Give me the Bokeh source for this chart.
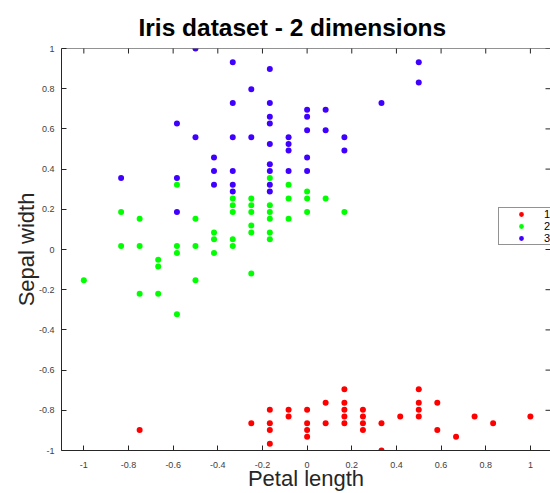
import math
from bokeh.plotting import figure
from bokeh.models import LinearAxis, FixedTicker, Legend, LegendItem, Range1d, Span
from bokeh.embed import file_html
from bokeh.resources import INLINE

# ---- data ----
red_x = [-0.75, -0.25, -0.167, -0.167, -0.167, -0.167, -0.083, -0.083, 0.0, 0.0, 0.0, 0.0,
         0.083, 0.083, 0.167, 0.167, 0.167, 0.167, 0.167, 0.25, 0.25, 0.25, 0.25, 0.333,
         0.333, 0.417, 0.5, 0.5, 0.5, 0.5, 0.583, 0.583, 0.667, 0.75, 0.833, 1.0]
red_y = [-0.898, -0.864, -0.797, -0.864, -0.898, -0.966, -0.797, -0.831, -0.797, -0.864, -0.898, -0.932,
         -0.763, -0.864, -0.695, -0.763, -0.797, -0.831, -0.864, -0.797, -0.831, -0.864, -0.898, -0.864,
         -1.0, -0.831, -0.695, -0.763, -0.797, -0.831, -0.763, -0.898, -0.932, -0.831, -0.864, -0.831]

green_x = [-0.167, -0.583, -0.083, 0.0, -0.333, -0.25, -0.083, 0.0, 0.083, -0.333, -0.25, -0.167,
           -0.833, -0.333, -0.25, -0.167, 0.0, 0.167, -0.75, -0.5, -0.167, -0.083, -0.25, -0.417,
           -0.25, -0.167, -0.417, -0.333, -0.167, -0.833, -0.75, -0.583, -0.5, -0.333, -0.583, -0.417,
           -0.667, -0.667, -0.25, -1.0, -0.5, -0.75, -0.667, -0.583]
green_y = [0.356, 0.322, 0.322, 0.288, 0.254, 0.254, 0.254, 0.254, 0.254, 0.220, 0.220, 0.220,
           0.186, 0.186, 0.186, 0.186, 0.186, 0.186, 0.153, 0.153, 0.153, 0.153, 0.119, 0.085,
           0.085, 0.085, 0.051, 0.051, 0.051, 0.017, 0.017, 0.017, 0.017, 0.017, -0.017, -0.017,
           -0.051, -0.085, -0.119, -0.153, -0.153, -0.220, -0.220, -0.322]

blue_x = [-0.5, -0.333, -0.167, 0.5, 0.5, -0.25, -0.333, -0.167, 0.333, 0.0, 0.083, -0.167,
          0.0, -0.583, -0.167, 0.0, 0.083, -0.5, -0.333, -0.25, -0.083, 0.167, -0.167, -0.083,
          -0.083, 0.167, -0.417, 0.0, -0.167, -0.417, -0.333, -0.167, -0.083, 0.0, -0.833, -0.583,
          -0.417, -0.333, -0.167, -0.333, -0.167, -0.583]
blue_y = [1.0, 0.932, 0.898, 0.932, 0.831, 0.797, 0.729, 0.729, 0.729, 0.695, 0.695, 0.661,
          0.661, 0.627, 0.627, 0.593, 0.593, 0.559, 0.559, 0.559, 0.559, 0.559, 0.525, 0.525,
          0.492, 0.492, 0.458, 0.458, 0.424, 0.390, 0.390, 0.390, 0.390, 0.390, 0.356, 0.356,
          0.322, 0.322, 0.322, 0.288, 0.288, 0.186]

cluster_labels = ["1", "2", "3"]
cluster_colors = ["#ff0000", "#00ff00", "#4000ff"]

x_ticks = [-1, -0.8, -0.6, -0.4, -0.2, 0, 0.2, 0.4, 0.6, 0.8, 1]
x_tick_labels = ["-1", "-0.8", "-0.6", "-0.4", "-0.2", "0", "0.2", "0.4", "0.6", "0.8", "1"]
y_ticks = [-1, -0.8, -0.6, -0.4, -0.2, 0, 0.2, 0.4, 0.6, 0.8, 1]
y_tick_labels = ["-1", "-0.8", "-0.6", "-0.4", "-0.2", "0", "0.2", "0.4", "0.6", "0.8", "1"]

x_limits = (-1.1, 1.09)
y_limits = (-1.0, 1.0)

title_text = "Iris dataset - 2 dimensions"
x_label = "Petal length"
y_label = "Sepal width"

FONT = "Liberation Sans"
AX = "#262626"

p = figure(width=550, height=493, output_backend="svg", toolbar_location=None,
           x_range=Range1d(*x_limits), y_range=Range1d(*y_limits),
           x_axis_location=None, y_axis_location=None,
           min_border_left=61, min_border_right=0, min_border_top=48, min_border_bottom=40)
p.grid.grid_line_color = None
p.outline_line_color = None
p.background_fill_color = "white"
p.border_fill_color = "white"

p.title.text = title_text
p.title.text_font = FONT
p.title.text_font_size = "24.5px"
p.title.text_font_style = "bold"
p.title.text_color = "black"
p.title.align = "left"
p.title.offset = 77
p.title.standoff = 15


def make_axis(ticks, labels):
    ax = LinearAxis(ticker=FixedTicker(ticks=ticks),
                    major_label_overrides={t: l for t, l in zip(ticks, labels)})
    ax.major_tick_in = 5
    ax.major_tick_out = 0
    ax.minor_tick_line_color = None
    ax.major_tick_line_color = AX
    ax.axis_line_color = AX
    ax.major_label_text_font = FONT
    ax.major_label_text_color = "#404040"
    ax.major_label_text_font_size = "9px"
    ax.axis_label_text_font = FONT
    ax.axis_label_text_font_size = "22px"
    ax.axis_label_text_font_style = "normal"
    ax.axis_label_text_color = AX
    return ax


xb = make_axis(x_ticks, x_tick_labels)
xb.major_label_standoff = 11
xb.axis_label = x_label
xb.axis_label_standoff = -5
p.add_layout(xb, "below")

yl = make_axis(y_ticks, y_tick_labels)
yl.major_label_standoff = 7
yl.axis_label = y_label
yl.axis_label_standoff = -3
p.add_layout(yl, "left")

# top border line of the box
p.add_layout(Span(location=y_limits[1], dimension="width", line_color=AX, line_width=1))

# inward tick marks on the top and right sides (half of each dash is clipped by the frame)
p.scatter(x_ticks, [y_limits[1]] * len(x_ticks), marker="dash", size=10, angle=math.pi / 2,
          line_color=AX, line_width=1)
p.scatter([x_limits[1]] * len(y_ticks), y_ticks, marker="dash", size=10, angle=0,
          line_color=AX, line_width=1)

renderers = []
for xs, ys, col in zip([red_x, green_x, blue_x], [red_y, green_y, blue_y], cluster_colors):
    r = p.scatter(xs, ys, size=6, fill_color=col, line_color=None)
    renderers.append(r)

legend = Legend(items=[LegendItem(label=lab, renderers=[r]) for lab, r in zip(cluster_labels, renderers)],
                location=(437, 205), orientation="vertical",
                glyph_height=12, glyph_width=44, label_height=12, label_width=20,
                label_standoff=1, spacing=0, padding=0, margin=0,
                label_text_font=FONT, label_text_font_size="11px", label_text_color="black",
                border_line_color=AX, border_line_width=1.5,
                background_fill_color="white", background_fill_alpha=1)
p.add_layout(legend)

open("out.html", "w").write(file_html(p, INLINE))
